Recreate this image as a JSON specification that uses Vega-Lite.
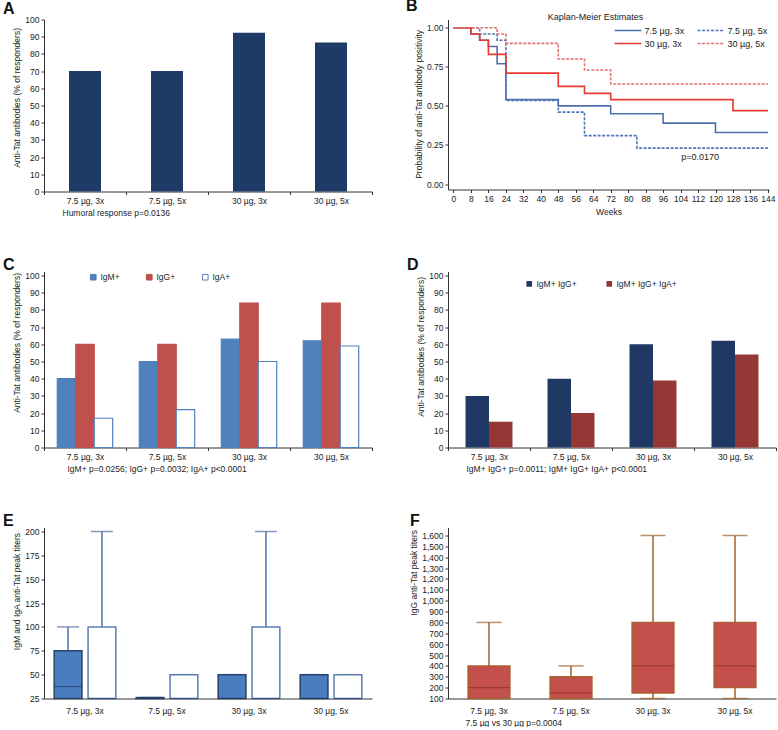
{
  "$schema": "https://vega.github.io/schema/vega-lite/v6.json",
  "padding": {"left": 3, "top": -2.5, "right": 0, "bottom": 0},
  "config": {
    "font": "Liberation Sans",
    "view": {"stroke": null},
    "axis": {"labelFontSize": 8.5, "titleFontSize": 8.5, "titleFontWeight": "normal", "grid": false, "domainColor": "#333333", "tickColor": "#333333", "labelColor": "#222222", "titleColor": "#222222", "tickSize": 3, "labelPadding": 2},
    "title": {"fontSize": 16, "fontWeight": "bold", "anchor": "start", "color": "#111111", "frame": "group", "offset": 1},
    "legend": {"labelFontSize": 8.5, "labelColor": "#222222"}
  },
  "datasets": {
    "A": [
      {"group": "7.5 µg, 3x", "pct": 70},
      {"group": "7.5 µg, 5x", "pct": 70},
      {"group": "30 µg, 3x", "pct": 92.3},
      {"group": "30 µg, 5x", "pct": 86.7}
    ],
    "B": [
      {"series": "7.5 µg, 3x", "week": 0, "p": 1},
      {"series": "7.5 µg, 3x", "week": 8, "p": 0.96},
      {"series": "7.5 µg, 3x", "week": 12, "p": 0.92},
      {"series": "7.5 µg, 3x", "week": 16, "p": 0.88},
      {"series": "7.5 µg, 3x", "week": 20, "p": 0.77},
      {"series": "7.5 µg, 3x", "week": 24, "p": 0.54},
      {"series": "7.5 µg, 3x", "week": 48, "p": 0.5},
      {"series": "7.5 µg, 3x", "week": 72, "p": 0.45},
      {"series": "7.5 µg, 3x", "week": 96, "p": 0.39},
      {"series": "7.5 µg, 3x", "week": 120, "p": 0.33},
      {"series": "7.5 µg, 3x", "week": 144, "p": 0.33},
      {"series": "7.5 µg, 5x", "week": 0, "p": 1},
      {"series": "7.5 µg, 5x", "week": 12, "p": 0.96},
      {"series": "7.5 µg, 5x", "week": 20, "p": 0.92},
      {"series": "7.5 µg, 5x", "week": 24, "p": 0.535},
      {"series": "7.5 µg, 5x", "week": 48, "p": 0.46},
      {"series": "7.5 µg, 5x", "week": 60, "p": 0.31},
      {"series": "7.5 µg, 5x", "week": 84, "p": 0.23},
      {"series": "7.5 µg, 5x", "week": 144, "p": 0.23},
      {"series": "30 µg, 3x", "week": 0, "p": 1},
      {"series": "30 µg, 3x", "week": 8, "p": 0.96},
      {"series": "30 µg, 3x", "week": 12, "p": 0.92},
      {"series": "30 µg, 3x", "week": 16, "p": 0.83},
      {"series": "30 µg, 3x", "week": 24, "p": 0.71},
      {"series": "30 µg, 3x", "week": 48, "p": 0.625},
      {"series": "30 µg, 3x", "week": 60, "p": 0.58},
      {"series": "30 µg, 3x", "week": 72, "p": 0.54},
      {"series": "30 µg, 3x", "week": 128, "p": 0.47},
      {"series": "30 µg, 3x", "week": 144, "p": 0.47},
      {"series": "30 µg, 5x", "week": 0, "p": 1},
      {"series": "30 µg, 5x", "week": 20, "p": 0.96},
      {"series": "30 µg, 5x", "week": 24, "p": 0.9},
      {"series": "30 µg, 5x", "week": 48, "p": 0.8},
      {"series": "30 µg, 5x", "week": 60, "p": 0.73},
      {"series": "30 µg, 5x", "week": 72, "p": 0.64},
      {"series": "30 µg, 5x", "week": 144, "p": 0.64}
    ],
    "Bnotes": [
      {"week": 113, "p": 0.176, "label": "p=0.0170"},
      {"week": 65, "p": 1.07, "label": "Kaplan-Meier Estimates"}
    ],
    "C": [
      {"group": "7.5 µg, 3x", "iso": "IgM+", "pct": 40},
      {"group": "7.5 µg, 3x", "iso": "IgG+", "pct": 60},
      {"group": "7.5 µg, 3x", "iso": "IgA+", "pct": 17},
      {"group": "7.5 µg, 5x", "iso": "IgM+", "pct": 50},
      {"group": "7.5 µg, 5x", "iso": "IgG+", "pct": 60},
      {"group": "7.5 µg, 5x", "iso": "IgA+", "pct": 22},
      {"group": "30 µg, 3x", "iso": "IgM+", "pct": 63},
      {"group": "30 µg, 3x", "iso": "IgG+", "pct": 84},
      {"group": "30 µg, 3x", "iso": "IgA+", "pct": 50},
      {"group": "30 µg, 5x", "iso": "IgM+", "pct": 62},
      {"group": "30 µg, 5x", "iso": "IgG+", "pct": 84},
      {"group": "30 µg, 5x", "iso": "IgA+", "pct": 59}
    ],
    "D": [
      {"group": "7.5 µg, 3x", "combo": "IgM+ IgG+", "pct": 30},
      {"group": "7.5 µg, 3x", "combo": "IgM+ IgG+ IgA+", "pct": 15},
      {"group": "7.5 µg, 5x", "combo": "IgM+ IgG+", "pct": 40},
      {"group": "7.5 µg, 5x", "combo": "IgM+ IgG+ IgA+", "pct": 20},
      {"group": "30 µg, 3x", "combo": "IgM+ IgG+", "pct": 60},
      {"group": "30 µg, 3x", "combo": "IgM+ IgG+ IgA+", "pct": 39},
      {"group": "30 µg, 5x", "combo": "IgM+ IgG+", "pct": 62},
      {"group": "30 µg, 5x", "combo": "IgM+ IgG+ IgA+", "pct": 54}
    ],
    "E": [
      {"group": "7.5 µg, 3x", "iso": "IgM", "min": 25, "q1": 25, "median": 37.5, "q3": 75, "max": 100},
      {"group": "7.5 µg, 3x", "iso": "IgA", "min": 25, "q1": 25, "median": 25, "q3": 100, "max": 200},
      {"group": "7.5 µg, 5x", "iso": "IgM", "min": 25, "q1": 25, "median": 25, "q3": 26, "max": 26},
      {"group": "7.5 µg, 5x", "iso": "IgA", "min": 25, "q1": 25, "median": 25, "q3": 50, "max": 50},
      {"group": "30 µg, 3x", "iso": "IgM", "min": 25, "q1": 25, "median": 25, "q3": 50, "max": 50},
      {"group": "30 µg, 3x", "iso": "IgA", "min": 25, "q1": 25, "median": 25, "q3": 100, "max": 200},
      {"group": "30 µg, 5x", "iso": "IgM", "min": 25, "q1": 25, "median": 25, "q3": 50, "max": 50},
      {"group": "30 µg, 5x", "iso": "IgA", "min": 25, "q1": 25, "median": 25, "q3": 50, "max": 50}
    ],
    "F": [
      {"group": "7.5 µg, 3x", "min": 100, "q1": 100, "median": 200, "q3": 400, "max": 800},
      {"group": "7.5 µg, 5x", "min": 100, "q1": 100, "median": 150, "q3": 300, "max": 400},
      {"group": "30 µg, 3x", "min": 100, "q1": 150, "median": 400, "q3": 800, "max": 1600},
      {"group": "30 µg, 5x", "min": 100, "q1": 200, "median": 400, "q3": 800, "max": 1600}
    ]
  },
  "columns": 2,
  "bounds": "flush",
  "spacing": {"row": 80, "column": 76},
  "resolve": {
    "scale": {"color": "independent", "fill": "independent", "stroke": "independent", "strokeDash": "independent", "xOffset": "independent", "x": "independent", "y": "independent"},
    "legend": {"color": "independent", "fill": "independent", "stroke": "independent", "strokeDash": "independent"}
  },
  "concat": [
    {
      "width": 328, "height": 172,
      "title": {"text": "A", "dx": -41, "dy": 2},
      "data": {"name": "A"},
      "mark": {"type": "bar", "width": {"band": 0.39}, "color": "#1e3a66"},
      "encoding": {
        "x": {"field": "group", "type": "nominal", "sort": null, "scale": {"paddingInner": 0, "paddingOuter": 0},
          "axis": {"title": "Humoral response p=0.0136", "labelAngle": 0, "tickBand": "extent", "titleAnchor": "start", "titleAlign": "left", "titleX": 18, "titlePadding": 3}},
        "y": {"field": "pct", "type": "quantitative", "scale": {"domain": [0, 100], "nice": false},
          "axis": {"title": "Anti-Tat antibodies (% of responders)", "values": [0, 10, 20, 30, 40, 50, 60, 70, 80, 90, 100], "titleAnchor": "end", "titleAlign": "right", "titleY": 8, "titlePadding": 3}}
      }
    },
    {
      "width": 321, "height": 170,
      "title": {"text": "B", "dx": -42, "dy": 2},
      "encoding": {
        "x": {"field": "week", "type": "quantitative", "scale": {"domain": [-2.5, 144.5], "nice": false, "zero": false},
          "axis": {"values": [0, 8, 16, 24, 32, 40, 48, 56, 64, 72, 80, 88, 96, 104, 112, 120, 128, 136, 144], "labelOverlap": false, "title": "Weeks", "titlePadding": 4}},
        "y": {"field": "p", "type": "quantitative", "scale": {"domain": [-0.035, 1.053], "nice": false, "zero": false},
          "axis": {"values": [0, 0.25, 0.5, 0.75, 1], "format": ".2f", "labelOverlap": false, "title": "Probability of anti-Tat antibody positivity", "titleAnchor": "end", "titleAlign": "right", "titleY": 10, "titlePadding": 3}}
      },
      "layer": [
        {
          "data": {"name": "B"},
          "mark": {"type": "line", "interpolate": "step-after", "strokeWidth": 1.6},
          "encoding": {
            "color": {"field": "series", "type": "nominal",
              "scale": {"domain": ["7.5 µg, 3x", "7.5 µg, 5x", "30 µg, 3x", "30 µg, 5x"], "range": ["#4d6fb0", "#4f74b8", "#e8382f", "#e27272"]},
              "legend": {"orient": "none", "legendX": 172, "legendY": 3, "columns": 2, "direction": "horizontal", "title": null, "symbolType": "M-2,0L2,0", "symbolSize": 180, "symbolStrokeWidth": 1.6, "columnPadding": 9, "rowPadding": 0, "labelOffset": 8.5, "labelFontSize": 9}},
            "strokeDash": {"field": "series", "type": "nominal",
              "scale": {"domain": ["7.5 µg, 3x", "7.5 µg, 5x", "30 µg, 3x", "30 µg, 5x"], "range": [[1, 0], [3, 1.5], [1, 0], [3, 1.5]]},
              "legend": {"orient": "none", "legendX": 172, "legendY": 3, "columns": 2, "direction": "horizontal", "title": null, "symbolType": "M-2,0L2,0", "symbolSize": 180, "symbolStrokeWidth": 1.6, "columnPadding": 9, "rowPadding": 0, "labelOffset": 8.5, "labelFontSize": 9}}
          }
        },
        {
          "data": {"name": "Bnotes"},
          "mark": {"type": "text", "fontSize": 9, "color": "#222222"},
          "encoding": {"text": {"field": "label"}}
        }
      ]
    },
    {
      "width": 328, "height": 176,
      "title": {"text": "C", "dx": -41, "dy": 2},
      "data": {"name": "C"},
      "mark": {"type": "bar", "strokeWidth": 1.2},
      "encoding": {
        "x": {"field": "group", "type": "nominal", "sort": null, "scale": {"paddingInner": 0, "paddingOuter": 0},
          "axis": {"title": "IgM+ p=0.0256; IgG+ p=0.0032; IgA+ p<0.0001", "labelAngle": 0, "tickBand": "extent", "titleAnchor": "start", "titleAlign": "left", "titleX": 23, "titlePadding": 3}},
        "xOffset": {"field": "iso", "type": "nominal", "sort": ["IgM+", "IgG+", "IgA+"], "scale": {"domain": ["IgM+", "IgG+", "IgA+"], "paddingInner": 0, "paddingOuter": 0.72}},
        "y": {"field": "pct", "type": "quantitative", "scale": {"domain": [0, 102.33], "nice": false},
          "axis": {"title": "Anti-Tat antibodies (% of responders)", "values": [0, 10, 20, 30, 40, 50, 60, 70, 80, 90, 100], "titleAnchor": "end", "titleAlign": "right", "titleY": 1, "titlePadding": 3}},
        "fill": {"field": "iso", "type": "nominal", "scale": {"domain": ["IgM+", "IgG+", "IgA+"], "range": ["#4f81bd", "#c0504d", "#ffffff"]},
          "legend": {"orient": "none", "legendX": 45, "legendY": 1, "direction": "horizontal", "title": null, "symbolType": "square", "symbolSize": 32, "symbolStrokeWidth": 1, "columnPadding": 24, "labelOffset": 3}},
        "stroke": {"field": "iso", "type": "nominal", "scale": {"domain": ["IgM+", "IgG+", "IgA+"], "range": ["#4f81bd", "#c0504d", "#4f81bd"]},
          "legend": {"orient": "none", "legendX": 45, "legendY": 1, "direction": "horizontal", "title": null, "symbolType": "square", "symbolSize": 32, "symbolStrokeWidth": 1, "columnPadding": 24, "labelOffset": 3}}
      }
    },
    {
      "width": 328, "height": 176,
      "title": {"text": "D", "dx": -41, "dy": 2},
      "data": {"name": "D"},
      "mark": {"type": "bar"},
      "encoding": {
        "x": {"field": "group", "type": "nominal", "sort": null, "scale": {"paddingInner": 0, "paddingOuter": 0},
          "axis": {"title": "IgM+ IgG+ p=0.0011; IgM+ IgG+ IgA+ p<0.0001", "labelAngle": 0, "tickBand": "extent", "titleAnchor": "start", "titleAlign": "left", "titleX": 18, "titlePadding": 3}},
        "xOffset": {"field": "combo", "type": "nominal", "sort": ["IgM+ IgG+", "IgM+ IgG+ IgA+"], "scale": {"domain": ["IgM+ IgG+", "IgM+ IgG+ IgA+"], "paddingInner": 0, "paddingOuter": 0.745}},
        "y": {"field": "pct", "type": "quantitative", "scale": {"domain": [0, 102.33], "nice": false},
          "axis": {"title": "Anti-Tat antibodies (% of responders)", "values": [0, 10, 20, 30, 40, 50, 60, 70, 80, 90, 100], "titleAnchor": "end", "titleAlign": "right", "titleY": 5, "titlePadding": 3}},
        "color": {"field": "combo", "type": "nominal", "scale": {"domain": ["IgM+ IgG+", "IgM+ IgG+ IgA+"], "range": ["#1f3864", "#953735"]},
          "legend": {"orient": "none", "legendX": 77, "legendY": 8, "direction": "horizontal", "title": null, "symbolType": "square", "symbolSize": 32, "columnPadding": 28, "labelOffset": 3}}
      }
    },
    {
      "width": 328, "height": 171,
      "title": {"text": "E", "dx": -41, "dy": 2},
      "data": {"name": "E"},
      "encoding": {
        "x": {"field": "group", "type": "nominal", "sort": null, "scale": {"paddingInner": 0, "paddingOuter": 0},
          "axis": {"title": null, "labelAngle": 0, "ticks": false, "labelPadding": 8}},
        "xOffset": {"field": "iso", "type": "nominal", "sort": ["IgM", "IgA"], "scale": {"domain": ["IgM", "IgA"], "paddingInner": 0.18, "paddingOuter": 0.3}}
      },
      "layer": [
        {
          "mark": {"type": "rule", "color": "#4f6fa5", "strokeWidth": 1.5},
          "encoding": {
            "y": {"field": "min", "type": "quantitative", "scale": {"domain": [25, 204.2], "nice": false, "zero": false},
              "axis": {"title": "IgM and IgA anti-Tat peak titers", "values": [25, 50, 75, 100, 125, 150, 175, 200], "labelOverlap": false, "titleAnchor": "end", "titleAlign": "right", "titleY": 5, "titlePadding": 3}},
            "y2": {"field": "max"}
          }
        },
        {
          "mark": {"type": "tick", "color": "#4f6fa5", "size": 22, "thickness": 1.5},
          "encoding": {"y": {"field": "max", "type": "quantitative",
            "axis": {"title": "IgM and IgA anti-Tat peak titers", "values": [25, 50, 75, 100, 125, 150, 175, 200], "labelOverlap": false, "titleAnchor": "end", "titleAlign": "right", "titleY": 5, "titlePadding": 3}}}
        },
        {
          "mark": {"type": "bar", "strokeWidth": 1.5},
          "encoding": {
            "y": {"field": "q1", "type": "quantitative",
              "axis": {"title": "IgM and IgA anti-Tat peak titers", "values": [25, 50, 75, 100, 125, 150, 175, 200], "labelOverlap": false, "titleAnchor": "end", "titleAlign": "right", "titleY": 5, "titlePadding": 3}},
            "y2": {"field": "q3"},
            "fill": {"field": "iso", "type": "nominal", "scale": {"domain": ["IgM", "IgA"], "range": ["#4a7cc0", "#ffffff"]}, "legend": null},
            "stroke": {"field": "iso", "type": "nominal", "scale": {"domain": ["IgM", "IgA"], "range": ["#26436e", "#5b7cb3"]}, "legend": null}
          }
        },
        {
          "mark": {"type": "tick", "color": "#1f3864", "size": 28, "thickness": 1},
          "encoding": {"y": {"field": "median", "type": "quantitative",
            "axis": {"title": "IgM and IgA anti-Tat peak titers", "values": [25, 50, 75, 100, 125, 150, 175, 200], "labelOverlap": false, "titleAnchor": "end", "titleAlign": "right", "titleY": 5, "titlePadding": 3}}}
        }
      ]
    },
    {
      "width": 328, "height": 171,
      "title": {"text": "F", "dx": -38, "dy": 2},
      "data": {"name": "F"},
      "encoding": {
        "x": {"field": "group", "type": "nominal", "sort": null, "scale": {"paddingInner": 0, "paddingOuter": 0},
          "axis": {"title": "7.5 µg vs 30 µg p=0.0004", "labelAngle": 0, "ticks": false, "labelPadding": 8, "titleAnchor": "start", "titleAlign": "left", "titleX": 17, "titlePadding": 3}}
      },
      "layer": [
        {
          "mark": {"type": "rule", "color": "#a0602c", "strokeWidth": 1.5},
          "encoding": {
            "y": {"field": "min", "type": "quantitative", "scale": {"domain": [100, 1673.6], "nice": false, "zero": false},
              "axis": {"title": "IgG anti-Tat peak titers", "format": ",.0f", "values": [100, 200, 300, 400, 500, 600, 700, 800, 900, 1000, 1100, 1200, 1300, 1400, 1500, 1600], "labelOverlap": false, "titleAnchor": "end", "titleAlign": "right", "titleY": 2, "titlePadding": 3}},
            "y2": {"field": "max"}
          }
        },
        {
          "mark": {"type": "tick", "color": "#a0602c", "size": 25, "thickness": 1.5},
          "encoding": {"y": {"field": "max", "type": "quantitative",
            "axis": {"title": "IgG anti-Tat peak titers", "format": ",.0f", "values": [100, 200, 300, 400, 500, 600, 700, 800, 900, 1000, 1100, 1200, 1300, 1400, 1500, 1600], "labelOverlap": false, "titleAnchor": "end", "titleAlign": "right", "titleY": 2, "titlePadding": 3}}}
        },
        {
          "mark": {"type": "tick", "color": "#a0602c", "size": 25, "thickness": 1.5},
          "encoding": {"y": {"field": "min", "type": "quantitative",
            "axis": {"title": "IgG anti-Tat peak titers", "format": ",.0f", "values": [100, 200, 300, 400, 500, 600, 700, 800, 900, 1000, 1100, 1200, 1300, 1400, 1500, 1600], "labelOverlap": false, "titleAnchor": "end", "titleAlign": "right", "titleY": 2, "titlePadding": 3}}}
        },
        {
          "mark": {"type": "bar", "width": 42, "fill": "#c3504c", "stroke": "#a5612f", "strokeWidth": 1.3},
          "encoding": {
            "y": {"field": "q1", "type": "quantitative",
              "axis": {"title": "IgG anti-Tat peak titers", "format": ",.0f", "values": [100, 200, 300, 400, 500, 600, 700, 800, 900, 1000, 1100, 1200, 1300, 1400, 1500, 1600], "labelOverlap": false, "titleAnchor": "end", "titleAlign": "right", "titleY": 2, "titlePadding": 3}},
            "y2": {"field": "q3"}
          }
        },
        {
          "mark": {"type": "tick", "color": "#8b3320", "size": 42, "thickness": 1.3},
          "encoding": {"y": {"field": "median", "type": "quantitative",
            "axis": {"title": "IgG anti-Tat peak titers", "format": ",.0f", "values": [100, 200, 300, 400, 500, 600, 700, 800, 900, 1000, 1100, 1200, 1300, 1400, 1500, 1600], "labelOverlap": false, "titleAnchor": "end", "titleAlign": "right", "titleY": 2, "titlePadding": 3}}}
        }
      ]
    }
  ]
}
